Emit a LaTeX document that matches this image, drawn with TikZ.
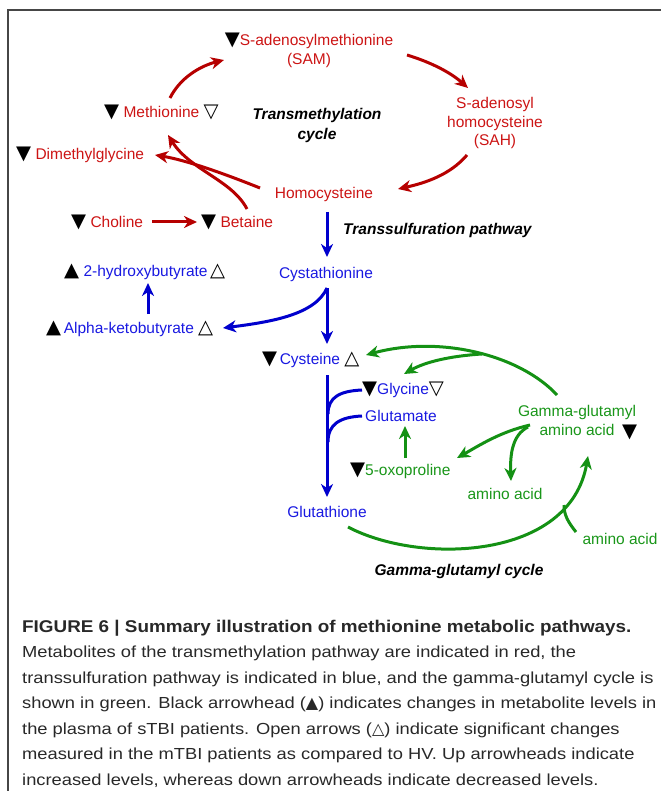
\documentclass[tikz,border=0pt]{standalone}
\usepackage{fontspec}
\setmainfont{Liberation Sans}
\newfontfamily\symfont{DejaVu Sans}
\newfontfamily\capfont[FakeStretch=1.145]{Liberation Sans}
\newfontfamily\capbfont[FakeStretch=1.11]{Liberation Sans Bold}
\usetikzlibrary{arrows.meta}
\definecolor{mred}{RGB}{204,20,20}
\definecolor{ared}{RGB}{182,0,0}
\definecolor{mblue}{RGB}{25,25,225}
\definecolor{ablue}{RGB}{0,0,205}
\definecolor{mgreen}{RGB}{25,150,25}
\definecolor{agreen}{RGB}{20,145,20}
\definecolor{framecol}{RGB}{70,70,70}
\definecolor{captxt}{RGB}{40,40,40}
\newcommand{\tdn}{{\color{black}\symfont\fontsize{19.5}{19}\selectfont ▼}}
\newcommand{\tdno}{{\color{black}\symfont\fontsize{19.5}{19}\selectfont ▽}}
\newcommand{\tup}{{\color{black}\symfont\fontsize{19.5}{19}\selectfont ▲}}
\newcommand{\tupo}{{\color{black}\symfont\fontsize{19.5}{19}\selectfont △}}
\begin{document}
\begin{tikzpicture}[x=1pt,y=-1pt,
  lbl/.style={inner sep=0pt, font=\fontsize{15.5}{19}\selectfont},
  rtxt/.style={lbl,text=mred},
  btxt/.style={lbl,text=mblue},
  gtxt/.style={lbl,text=mgreen},
  ktxt/.style={lbl,text=black,font=\fontsize{15.5}{20}\selectfont\bfseries\itshape},
  captext/.style={inner sep=0pt,anchor=base west,text=captxt,font=\capfont\fontsize{16}{20}\selectfont},
  flow/.style={line width=3pt,-{Stealth[length=13pt,width=12pt,inset=4pt]}},
  nohead/.style={line width=3pt},
  rflow/.style={flow,draw=ared},
  bflow/.style={flow,draw=ablue},
  gflow/.style={flow,draw=agreen},
  ]
\useasboundingbox (0,0) rectangle (661,791);
\draw[framecol,line width=1.6pt] (8,791) -- (8,10) -- (661,10);

% red nodes
\node[rtxt,align=center] (sam) at (309,50) {\tdn S-adenosylmethionine\\(SAM)};
\node[rtxt,align=center,font=\fontsize{15.5}{18.5}\selectfont] (sah) at (495,123) {S-adenosyl\\homocysteine\\(SAH)};
\node[rtxt,anchor=base west] (met) at (104,117.5) {\tdn{} Methionine \tdno};
\node[rtxt,anchor=base west] (dmg) at (16,159.5) {\tdn{} Dimethylglycine};
\node[rtxt,anchor=base west] (chol) at (71,227.5) {\tdn{} Choline};
\node[rtxt,anchor=base west] (bet) at (201,227.5) {\tdn{} Betaine};
\node[rtxt,anchor=base] (hcy) at (324,198.5) {Homocysteine};
\node[ktxt,align=center] (tmlab) at (317,125) {Transmethylation\\cycle};

% blue nodes
\node[ktxt,anchor=base west] (tslab) at (343,234.5) {Transsulfuration pathway};
\node[btxt,anchor=base] (cyst) at (326,278.5) {Cystathionine};
\node[btxt,anchor=base west] (hyd) at (64,276.5) {\tup{} 2-hydroxybutyrate\,\tupo};
\node[btxt,anchor=base west] (alpha) at (46,333.5) {\tup\,Alpha-ketobutyrate \tupo};
\node[btxt,anchor=base west] (cys) at (262,364.5) {\tdn\,Cysteine \tupo};
\node[btxt,anchor=base west] (gly) at (362,394.5) {\tdn Glycine\tdno};
\node[btxt,anchor=base west] (glu) at (365,421.5) {Glutamate};
\node[btxt,anchor=base] (gsh) at (327,517.5) {Glutathione};

% green nodes
\node[gtxt,anchor=base west] (oxo) at (350,475.5) {\tdn 5-oxoproline};
\node[gtxt,align=center] (ggaa) at (577,420.5) {Gamma-glutamyl\\amino acid};
\node[lbl,anchor=base west] (ggtri) at (622,437) {\tdn};
\node[gtxt,anchor=base] (aa1) at (505,499.5) {amino acid};
\node[gtxt,anchor=base] (aa2) at (620,544.5) {amino acid};
\node[ktxt,anchor=base] (ggcyc) at (459,575.5) {Gamma-glutamyl cycle};

% red arrows
\draw[rflow] (170,98) .. controls (180,78) and (200,66) .. (224,60);
\draw[rflow] (407,55) .. controls (430,62) and (450,72) .. (468,88);
\draw[rflow] (467,155) .. controls (450,175) and (425,183) .. (398,189);
\draw[rflow] (260,188) .. controls (220,172) and (185,160) .. (155,155);
\draw[rflow] (247,209) .. controls (232,180) and (190,170) .. (168,135);
\draw[rflow] (152,222) -- (197,222);

% blue arrows
\coordinate (cystb) at (327,288);
\draw[bflow] (327,212) -- (327,257);
\draw[bflow] (cystb) -- (327,344);
\draw[bflow] (cystb) .. controls (315,315) and (270,322) .. (223,328);
\draw[bflow] (148,314) -- (148,283);
\draw[bflow] (327,375) -- (327,497);
\draw[nohead,draw=ablue] (362,390) .. controls (340,391) and (328,397) .. (328,414);
\draw[nohead,draw=ablue] (362,416) .. controls (340,417) and (328,424) .. (328,442);

% green arrows
\draw[gflow] (557,395) .. controls (520,355) and (440,335) .. (366,355);
\draw[gflow] (482,354) .. controls (450,356) and (425,362) .. (404,374);
\draw[gflow] (405,458) -- (405,426);
\draw[gflow] (530,425) .. controls (500,432) and (480,445) .. (457,458);
\draw[gflow] (528,427) .. controls (512,435) and (510,455) .. (511,481);
\draw[gflow] (348,527) .. controls (420,565) and (570,560) .. (588,456);
\draw[nohead,draw=agreen] (576,532) .. controls (568,522) and (564,515) .. (564,505);

% caption
\node[captext,font=\capbfont\fontsize{17}{20}\selectfont] (cap0) at (22,632) {FIGURE 6 | Summary illustration of methionine metabolic pathways.};
\node[captext] (cap1) at (22,657.5) {Metabolites of the transmethylation pathway are indicated in red, the};
\node[captext] (cap2) at (22,683) {transsulfuration pathway is indicated in blue, and the gamma-glutamyl cycle is};
\node[captext] (cap3) at (22,708.5) {shown in green. Black arrowhead ({\symfont ▲}) indicates changes in metabolite levels in};
\node[captext] (cap4) at (22,734) {the plasma of sTBI patients. Open arrows ({\symfont △}) indicate significant changes};
\node[captext] (cap5) at (22,759.5) {measured in the mTBI patients as compared to HV. Up arrowheads indicate};
\node[captext] (cap6) at (22,785) {increased levels, whereas down arrowheads indicate decreased levels.};
\end{tikzpicture}
\end{document}
